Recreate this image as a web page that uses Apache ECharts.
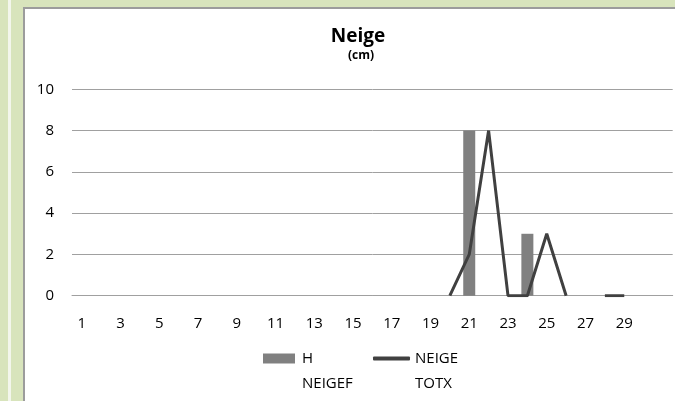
<!DOCTYPE html>
<html>
<head>
<meta charset="utf-8">
<script src="https://cdn.jsdelivr.net/npm/echarts@6/dist/echarts.min.js"></script>
<style>
html,body{margin:0;padding:0;width:675px;height:401px;overflow:hidden;background:#d8e4bc;}
#stripe{position:absolute;left:8px;top:0;width:3px;height:401px;background:#f3f6ec;}
#panel{position:absolute;left:23px;top:7px;width:652px;height:394px;background:#fff;border-left:2px solid #9c9c9c;border-top:2px solid #9c9c9c;box-sizing:border-box;}
#chart{position:absolute;left:0;top:0;width:675px;height:401px;}
</style>
</head>
<body>
<div id="stripe"></div>
<div id="panel"></div>
<div id="chart"></div>
<script>
var days = ['1','2','3','4','5','6','7','8','9','10','11','12','13','14','15','16','17','18','19','20','21','22','23','24','25','26','27','28','29','30','31'];
var hNeigef = [null,null,null,null,null,null,null,null,null,null,null,null,null,null,null,null,null,null,null,null,8,null,null,3,null,null,null,null,null,null,null];
var neigeTotx = [null,null,null,null,null,null,null,null,null,null,null,null,null,null,null,null,null,null,null,0,2,8,0,0,3,0,null,0,0,null,null];
var yTicks = [0, 2, 4, 6, 8, 10];
var seriesNames = ['H NEIGEF', 'NEIGE TOTX'];

var FONT = '"Open Sans", sans-serif';
var LH = 25;
function wrapName(n) { return '\u00a0\n' + n.replace(' ', '\n'); }
var chart = echarts.init(document.getElementById('chart'), null, {renderer: 'canvas'});
chart.setOption({
  animation: false,
  backgroundColor: 'transparent',
  title: [
    {text: 'Neige', left: 358, top: 37, textAlign: 'center', textVerticalAlign: 'middle', padding: 0,
     textStyle: {fontFamily: FONT, fontSize: 19, fontWeight: 'bold', color: '#000'}},
    {text: '(cm)', left: 361, top: 56, textAlign: 'center', textVerticalAlign: 'middle', padding: 0,
     textStyle: {fontFamily: FONT, fontSize: 12, fontWeight: 'bold', color: '#000'}}
  ],
  grid: {left: 72, right: 2.3, top: 89.3, bottom: 105.3, containLabel: false},
  legend: [
    {data: [{name: seriesNames[0], icon: 'rect'}], left: 263, top: 321, padding: 0, itemWidth: 32, itemHeight: 10,
     formatter: wrapName,
     textStyle: {fontFamily: FONT, fontSize: 15, color: '#000', lineHeight: LH, padding: [0, 0, 0, 2]}},
    {data: [{name: seriesNames[1], icon: 'roundRect'}], left: 373, top: 321, padding: 0, itemWidth: 37, itemHeight: 4,
     formatter: wrapName,
     textStyle: {fontFamily: FONT, fontSize: 15, color: '#000', lineHeight: LH, padding: [0, 0, 0, 0]}}
  ],
  xAxis: {
    type: 'category', data: days, boundaryGap: true,
    axisLine: {show: true, lineStyle: {color: '#a0a0a0', width: 1}},
    axisTick: {show: false},
    axisLabel: {interval: function (i) { return i % 2 === 0 && i < 30; }, margin: 21,
      fontFamily: FONT, fontSize: 15, color: '#000'},
    splitLine: {show: false}
  },
  yAxis: {
    type: 'value', min: yTicks[0], max: yTicks[yTicks.length - 1], interval: 2,
    axisLine: {show: false}, axisTick: {show: false},
    axisLabel: {margin: 18, fontFamily: FONT, fontSize: 15, color: '#000'},
    splitLine: {show: true, lineStyle: {color: '#a0a0a0', width: 1}}
  },
  series: [
    {name: seriesNames[0], type: 'bar', data: hNeigef, barWidth: 12,
     itemStyle: {color: '#808080'}},
    {name: seriesNames[1], type: 'line', data: neigeTotx, symbol: 'none', showSymbol: false,
     connectNulls: false, lineStyle: {color: '#404040', width: 3}, itemStyle: {color: '#404040'}}
  ]
});
</script>
</body>
</html>
